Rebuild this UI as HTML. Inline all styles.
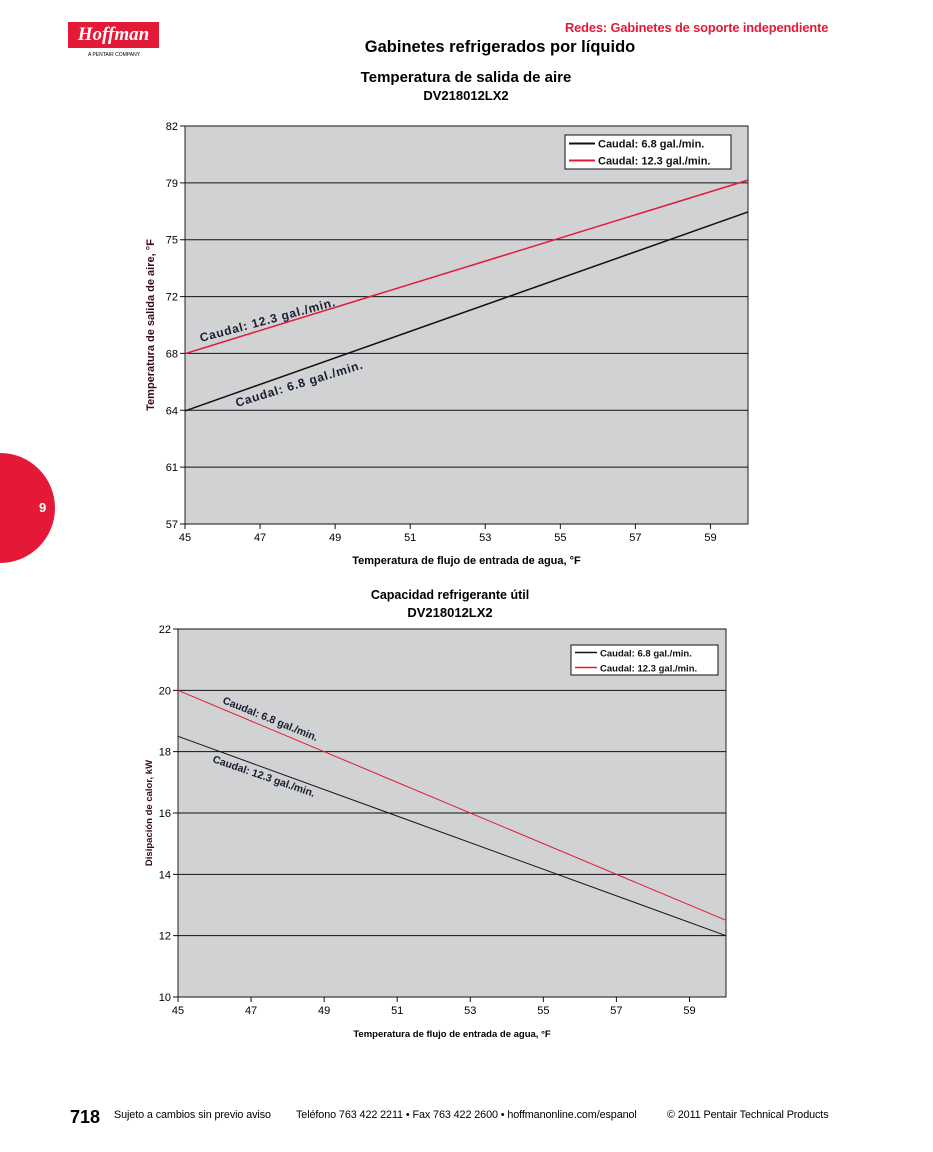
<!DOCTYPE html>
<html><head><meta charset="utf-8">
<style>
body{margin:0;width:933px;height:1152px;background:#fff;position:relative;overflow:hidden;font-family:"Liberation Sans",sans-serif;}
.abs{position:absolute;white-space:nowrap;}
</style></head>
<body>
<div class="abs" style="left:68px;top:22px;width:91px;height:26px;background:#e31937;color:#fff;font:italic bold 19px 'Liberation Serif',serif;text-align:center;line-height:26px;">Hoffman</div>
<div class="abs" style="left:88px;top:52px;font-size:5px;">A PENTAIR COMPANY</div>
<div class="abs" style="left:565px;top:20px;color:#e31937;font-weight:bold;font-size:12.8px;letter-spacing:-0.1px;">Redes: Gabinetes de soporte independiente</div>
<div class="abs" style="left:0;width:1000px;text-align:center;top:38px;font-weight:bold;font-size:16.5px;">Gabinetes refrigerados por líquido</div>
<div class="abs" style="left:0;top:453px;width:55px;height:110px;border-radius:0 55px 55px 0;background:#e31937;"></div>
<div class="abs" style="left:39px;top:500px;color:#fff;font-weight:bold;font-size:13px;">9</div>

<svg id="svg" width="933" height="1152" style="position:absolute;left:0;top:0"></svg>

<div class="abs" style="left:70px;top:1107px;font-weight:bold;font-size:18px;">718</div>
<div class="abs" style="left:114px;top:1109px;font-size:10.8px;letter-spacing:-0.1px;">Sujeto a cambios sin previo aviso</div>
<div class="abs" style="left:296px;top:1109px;font-size:10.8px;letter-spacing:-0.1px;">Teléfono 763 422 2211 • Fax 763 422 2600 • hoffmanonline.com/espanol</div>
<div class="abs" style="left:667px;top:1109px;font-size:10.8px;letter-spacing:-0.1px;">© 2011 Pentair Technical Products</div>

<script>
const xTicks=[45,47,49,51,53,55,57,59];
const xDomain=[45,60];
const c1YTicks=[57,61,64,68,72,75,79,82];
const c1Black=[64.1,76.6];
const c1Red=[67.7,78.6];
const c2YTicks=[10,12,14,16,18,20,22];
const c2Black=[18.5,12];
const c2Red=[20,12.5];

const NS="http://www.w3.org/2000/svg";
const svg=document.getElementById('svg');
function mk(t,a,txt){const e=document.createElementNS(NS,t);for(const k in a)e.setAttribute(k,a[k]);if(txt!=null)e.textContent=txt;svg.appendChild(e);return e;}

function chart(o){
  const X=v=>o.x0+(v-xDomain[0])/(xDomain[1]-xDomain[0])*(o.x1-o.x0);
  const yt=o.yTicks, n=yt.length-1;
  const Y=v=>o.y1-(v-yt[0])/(yt[n]-yt[0])*(o.y1-o.y0);
  let r=mk('rect',{x:o.x0,y:o.y0,width:o.x1-o.x0,height:o.y1-o.y0,fill:'#d1d2d4',stroke:'#222','stroke-width':1});
  
  yt.forEach((t,i)=>{const y=o.y1-i*(o.y1-o.y0)/n;
    let l=mk('line',{x1:o.x0-5,x2:o.x1,y1:y,y2:y,stroke:'#111','stroke-width':1});
    
    let tx=mk('text',{x:o.x0-7,y:y+4,'text-anchor':'end','font-size':11},t);
    });
  xTicks.forEach(t=>{const x=X(t);
    let l=mk('line',{x1:x,x2:x,y1:o.y1,y2:o.y1+5,stroke:'#111'});
    
    let tx=mk('text',{x:x,y:o.y1+17,'text-anchor':'middle','font-size':11},t);
    });
  [[o.black,'#111','black'],[o.red,'#e31937','red']].forEach(([d,c,nm])=>{
    let l=mk('line',{x1:X(xDomain[0]),y1:Y(d[0]),x2:X(xDomain[1]),y2:Y(d[1]),stroke:c,'stroke-width':o.lw});
    });
  let lb=mk('rect',{x:o.lg[0],y:o.lg[1],width:o.lg[2],height:o.lg[3],fill:'#fff',stroke:'#111'});
  
  [['#111','Caudal: 6.8 gal./min.'],['#e31937','Caudal: 12.3 gal./min.']].forEach(([c,t],i)=>{
    const y=o.lg[1]+o.lg[3]*(i*2+1)/4;
    mk('line',{x1:o.lg[0]+4,x2:o.lg[0]+4+o.sw,y1:y,y2:y,stroke:c,'stroke-width':o.lw+0.5});
    let e=mk('text',{x:o.lg[0]+7+o.sw,y:y+4,'font-size':o.lfs,'font-weight':'bold','fill':'#111'},t);
    });
  o.labels.forEach(([t,x,y,a])=>{let e=mk('text',{x:x,y:y,'font-size':o.lfs+1,'font-weight':'bold',fill:'#1a1a30',transform:`rotate(${a} ${x} ${y})`,'letter-spacing':o.ls},t);
    });
  let t1=mk('text',{x:o.tx,y:o.ty,'text-anchor':'middle','font-size':o.tfs,'font-weight':'bold'},o.title);
  
  let t2=mk('text',{x:o.tx,y:o.ty+18,'text-anchor':'middle','font-size':13,'font-weight':'bold'},'DV218012LX2');
  
  let xa=mk('text',{x:(o.x0+o.x1)/2,y:o.y1+40,'text-anchor':'middle','font-size':o.afs,'font-weight':'bold'},o.xTitle);
  
  const ym=(o.y0+o.y1)/2;
  let ya=mk('text',{x:o.yax,y:ym,'text-anchor':'middle','font-size':o.afs,'font-weight':'bold',fill:'#3a0a14',transform:`rotate(-90 ${o.yax} ${ym})`},o.yTitle);
  
}
chart({id:'chart1',x0:185,x1:748,y0:126,y1:524,yTicks:c1YTicks,black:c1Black,red:c1Red,lw:1.5,
  lg:[565,135,166,34],sw:26,lfs:11,ls:0.8,
  labels:[['Caudal: 12.3 gal./min.',201,342,-15],['Caudal: 6.8 gal./min.',237,407,-17]],
  tx:466,ty:82,tfs:15,title:'Temperatura de salida de aire',
  xTitle:'Temperatura de flujo de entrada de agua, °F',afs:11,yax:154,yTitle:'Temperatura de salida de aire, °F'});
chart({id:'chart2',x0:178,x1:726,y0:629,y1:997,yTicks:c2YTicks,black:c2Black,red:c2Red,lw:1,
  lg:[571,645,147,30],sw:22,lfs:9.5,ls:0,
  labels:[['Caudal: 6.8 gal./min.',222,703,22],['Caudal: 12.3 gal./min.',212,762,19]],
  tx:450,ty:599,tfs:12.5,title:'Capacidad refrigerante útil',
  xTitle:'Temperatura de flujo de entrada de agua, °F',afs:9.5,yax:152,yTitle:'Disipación de calor, kW'});
</script>
</body></html>
